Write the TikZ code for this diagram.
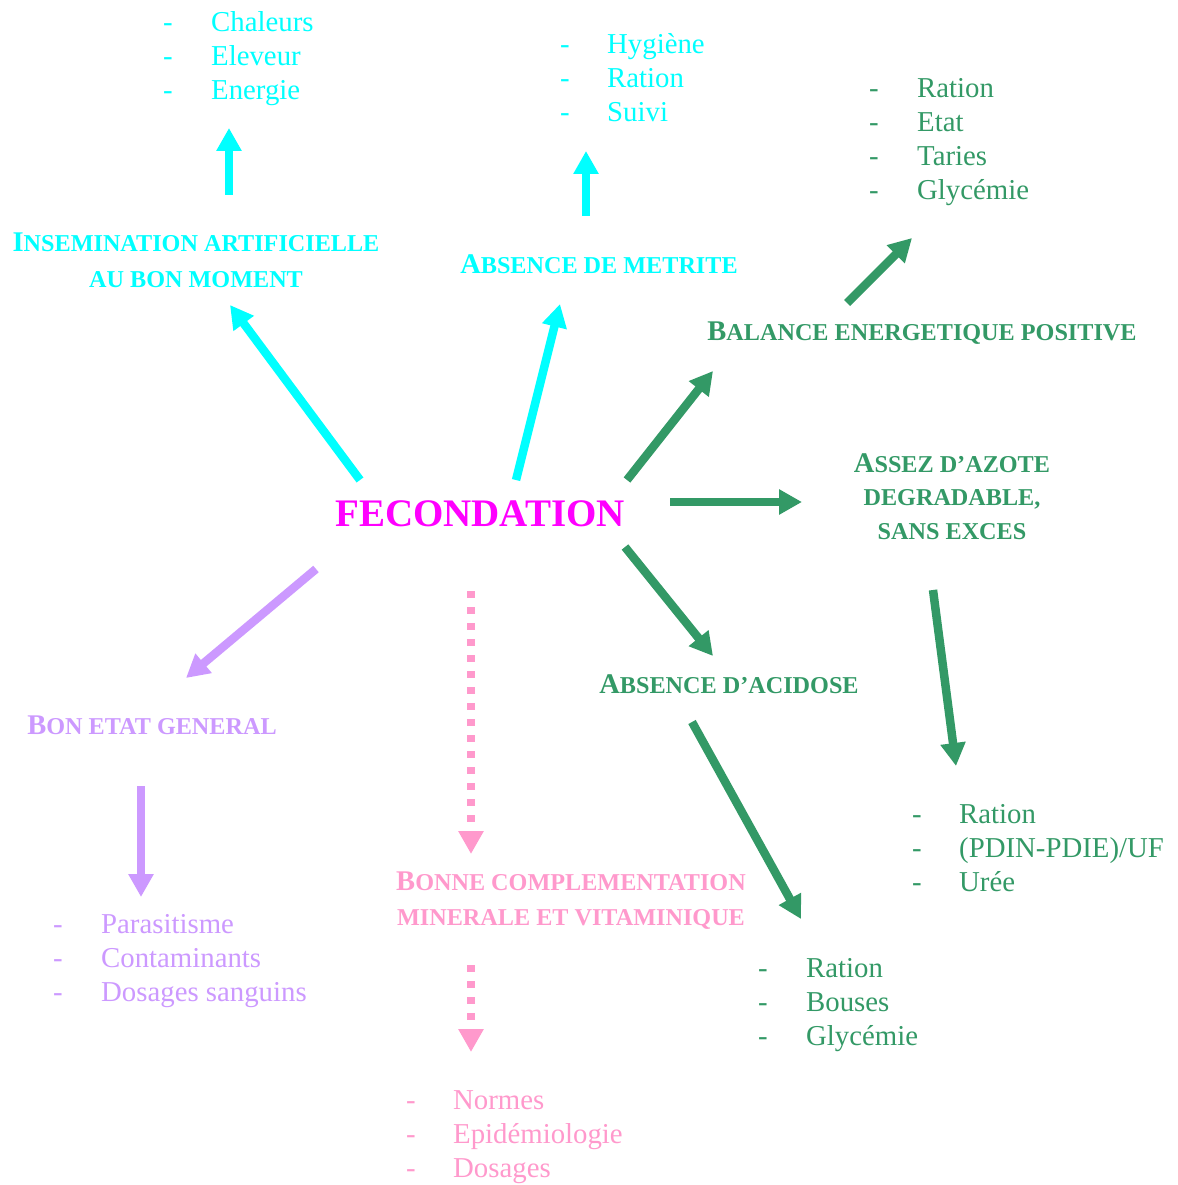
\documentclass[tikz,border=0pt]{standalone}
\usepackage{fontspec}
\setmainfont{Liberation Serif}
\usetikzlibrary{arrows.meta}
\definecolor{cy}{HTML}{00FFFF}
\definecolor{gr}{HTML}{339966}
\definecolor{lav}{HTML}{CC99FF}
\definecolor{pk}{HTML}{FF99CC}
\definecolor{mg}{HTML}{FF00FF}
\newcommand{\BgL}[1]{{\fontsize{28.5}{34}\selectfont #1}}
\newcommand{\SmL}[1]{{\fontsize{24.2}{34}\selectfont #1}}
\newcommand{\Lst}[2]{\fontsize{28.8}{34}\selectfont\begin{tabular}[t]{@{}p{#1}@{}l@{}}#2\end{tabular}}
\tikzset{
  head/.style={font=\bfseries, inner sep=0pt, anchor=base},
  lst/.style={inner sep=0pt, anchor=base west},
  arr/.style={line width=8.5pt, -{Triangle[length=23pt,width=24pt]}},
  dotarr/.style={line width=8pt, dash pattern=on 7pt off 9pt, -{Triangle[length=23pt,width=24pt]}},
}
\begin{document}
\begin{tikzpicture}[x=1pt,y=-1pt]
\useasboundingbox (0,0) rectangle (1177,1185);

% center
\node[head, text=mg, font=\bfseries\fontsize{39}{40}\selectfont] (fec) at (480,526) {FECONDATION};

% headings
\node[head, text=cy] (ia1) at (196,251) {\BgL{I}\SmL{NSEMINATION ARTIFICIELLE}};
\node[head, text=cy] (ia2) at (196,287) {\SmL{AU BON MOMENT}};
\node[head, text=cy] (met) at (599,273) {\BgL{A}\SmL{BSENCE DE METRITE}};
\node[head, text=gr] (bal) at (922,340) {\BgL{B}\SmL{ALANCE ENERGETIQUE POSITIVE}};
\node[head, text=gr] (az1) at (952,472) {\BgL{A}\SmL{SSEZ D’AZOTE}};
\node[head, text=gr] (az2) at (952,505) {\SmL{DEGRADABLE,}};
\node[head, text=gr] (az3) at (952,539) {\SmL{SANS EXCES}};
\node[head, text=gr] (aci) at (729,693) {\BgL{A}\SmL{BSENCE D’ACIDOSE}};
\node[head, text=lav] (bon) at (152,734) {\BgL{B}\SmL{ON ETAT GENERAL}};
\node[head, text=pk] (bc1) at (571,890) {\BgL{B}\SmL{ONNE COMPLEMENTATION}};
\node[head, text=pk] (bc2) at (571,925) {\SmL{MINERALE ET VITAMINIQUE}};

% lists
\node[lst, text=cy] (l1) at (163,32) {\Lst{48pt}{- & Chaleurs\\ - & Eleveur\\ - & Energie}};
\node[lst, text=cy] (l2) at (560,54) {\Lst{47pt}{- & Hygiène\\ - & Ration\\ - & Suivi}};
\node[lst, text=gr] (l3) at (869,98) {\Lst{48pt}{- & Ration\\ - & Etat\\ - & Taries\\ - & Glycémie}};
\node[lst, text=gr] (l4) at (912,823) {\Lst{47pt}{- & Ration\\ - & (PDIN-PDIE)/UF\\ - & Urée}};
\node[lst, text=gr] (l5) at (758,977) {\Lst{48pt}{- & Ration\\ - & Bouses\\ - & Glycémie}};
\node[lst, text=lav] (l6) at (53,933) {\Lst{48pt}{- & Parasitisme\\ - & Contaminants\\ - & Dosages sanguins}};
\node[lst, text=pk] (l7) at (406,1109) {\Lst{47pt}{- & Normes\\ - & Epidémiologie\\ - & Dosages}};

% arrow end points
\coordinate (a1s) at (360,480); \coordinate (a1e) at (230,305);
\coordinate (a2s) at (516,480); \coordinate (a2e) at (560,304);
\coordinate (a3s) at (229,195); \coordinate (a3e) at (229,128);
\coordinate (a4s) at (586,216); \coordinate (a4e) at (586,151);
\coordinate (b1s) at (627,480); \coordinate (b1e) at (713,371);
\coordinate (b2s) at (670,502); \coordinate (b2e) at (802,502);
\coordinate (b3s) at (625,547); \coordinate (b3e) at (713,656);
\coordinate (b4s) at (847,303); \coordinate (b4e) at (912,238);
\coordinate (b5s) at (933,590); \coordinate (b5e) at (956,766);
\coordinate (b6s) at (692,722); \coordinate (b6e) at (801,919);
\coordinate (c1s) at (316,569); \coordinate (c1e) at (186,678);
\coordinate (c2s) at (141,786); \coordinate (c2e) at (141,897);
\coordinate (d1s) at (471,591); \coordinate (d1e) at (471,854);
\coordinate (d2s) at (471,965); \coordinate (d2e) at (471,1052);

\draw[arr, cy] (a1s) -- (a1e);
\draw[arr, cy] (a2s) -- (a2e);
\draw[arr, cy] (a3s) -- (a3e);
\draw[arr, cy] (a4s) -- (a4e);
\draw[arr, gr] (b1s) -- (b1e);
\draw[arr, gr] (b2s) -- (b2e);
\draw[arr, gr] (b3s) -- (b3e);
\draw[arr, gr] (b4s) -- (b4e);
\draw[arr, gr] (b5s) -- (b5e);
\draw[arr, gr] (b6s) -- (b6e);
\draw[arr, lav] (c1s) -- (c1e);
\draw[arr, lav] (c2s) -- (c2e);
\draw[dotarr, pk] (d1s) -- (d1e);
\draw[dotarr, pk] (d2s) -- (d2e);
\end{tikzpicture}
\end{document}
